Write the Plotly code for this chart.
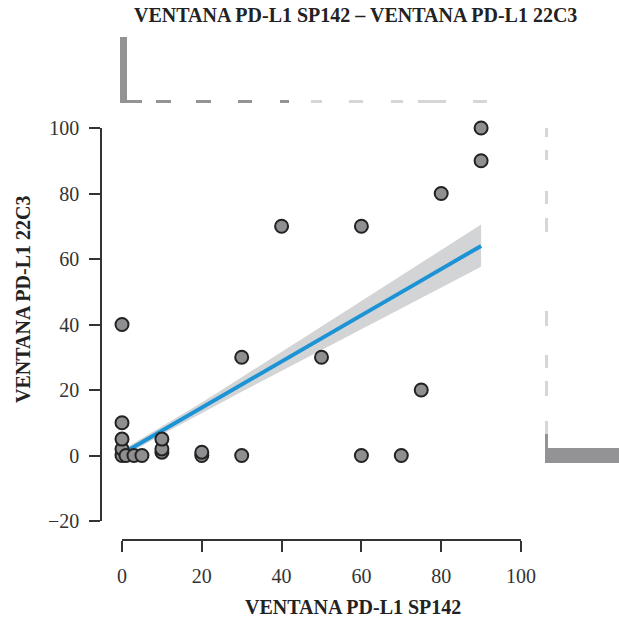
import plotly.graph_objects as go

W, H = 619, 621

# ---- data ----
sp142 = [0, 0, 0, 0, 0, 1, 3, 5, 10, 10, 10, 20, 20, 30, 30, 40, 50, 60, 60, 70, 75, 80, 90, 90]
c22c3 = [0, 2, 5, 10, 40, 0, 0, 0, 1, 2, 5, 0, 1, 0, 30, 70, 30, 70, 0, 0, 20, 80, 90, 100]

fit_x = [0, 10, 20, 30, 45, 60, 75, 90]
fit_y = [0.5, 7.6, 14.6, 21.7, 32.3, 42.8, 53.4, 64.0]
ci_lo = [-0.6, 6.4, 13.0, 19.5, 29.0, 38.5, 48.0, 57.6]
ci_hi = [1.6, 8.8, 16.2, 23.9, 35.6, 47.1, 58.8, 70.5]

top_lo = [-0.5, 1.3, 8.5, 18.5, 29.0, 39.6, 47.4, 56.9, 67.3, 74.3, 77.5, 87.9]
top_hi = [1.3, 4.9, 12.3, 22.2, 32.5, 41.9, 50.0, 60.5, 70.5, 77.5, 81.2, 91.6]
top_counts = [22, 1, 1, 1, 1, 1, 1, 1, 1, 1, 1, 1]
top_shade = ["d", "d", "d", "d", "d", "d", "l", "l", "l", "l", "l", "l"]

right_lo = [97.3, 90.2, 76.8, 68.1, 39.4, 26.7, 18.3, 6.7, 2.2, -2.2]
right_hi = [99.9, 93.3, 80.9, 72.5, 44.0, 30.8, 22.7, 10.5, 6.7, 2.2]
right_counts = [1, 1, 1, 1, 1, 1, 1, 1, 1, 26]
right_shade = ["l", "l", "l", "l", "l", "l", "l", "l", "d", "d"]

x_ticks = [0, 20, 40, 60, 80, 100]
y_ticks = [-20, 0, 20, 40, 60, 80, 100]

title = "VENTANA PD-L1 SP142 – VENTANA PD-L1 22C3"
x_title = "VENTANA PD-L1 SP142"
y_title = "VENTANA PD-L1 22C3"

# ---- styles ----
FONT = "Liberation Serif, Times New Roman, serif"
DARK = "#939396"
LIGHT = "#d6d6d8"
shade = {"d": DARK, "l": LIGHT}


def px_x(p):
    return p / W


def px_y(p):
    return 1 - p / H


fig = go.Figure()

# confidence band
fig.add_trace(go.Scatter(x=fit_x + fit_x[::-1], y=ci_hi + ci_lo[::-1], fill="toself",
                         fillcolor="#d3d4d6", line=dict(width=0), mode="lines",
                         hoverinfo="skip", xaxis="x", yaxis="y"))
# regression line
fig.add_trace(go.Scatter(x=fit_x, y=fit_y, mode="lines",
                         line=dict(color="#1b93d5", width=4), xaxis="x", yaxis="y"))
# points
fig.add_trace(go.Scatter(x=sp142, y=c22c3, mode="markers", cliponaxis=False,
                         marker=dict(size=13, color="#8f8f92",
                                     line=dict(color="#222222", width=2)),
                         xaxis="x", yaxis="y"))

# top marginal
fig.add_trace(go.Bar(x=[(a + b) / 2 for a, b in zip(top_lo, top_hi)],
                     width=[b - a for a, b in zip(top_lo, top_hi)],
                     y=top_counts, marker=dict(color=[shade[s] for s in top_shade], line=dict(width=0)),
                     xaxis="x2", yaxis="y2"))
# right marginal
fig.add_trace(go.Bar(y=[(a + b) / 2 for a, b in zip(right_lo, right_hi)],
                     width=[b - a for a, b in zip(right_lo, right_hi)],
                     x=right_counts, orientation="h",
                     marker=dict(color=[shade[s] for s in right_shade], line=dict(width=0)),
                     xaxis="x3", yaxis="y3"))

axis_common = dict(showgrid=False, zeroline=False, showline=True, linecolor="#333333",
                   linewidth=1.5, ticks="outside", ticklen=11, tickwidth=1.5,
                   tickcolor="#333333", automargin=False,
                   tickfont=dict(family=FONT, size=20, color="#333333"))

x_lo_px, x_hi_px = 101, 545
x_scale = 3.99  # px per unit
x_range_wide = [(x_lo_px - 122) / x_scale, (x_hi_px - 122) / x_scale]

fig.update_layout(
    width=W, height=H,
    autosize=False,
    margin=dict(l=0, r=0, t=0, b=0, pad=0, autoexpand=False),
    paper_bgcolor="white", plot_bgcolor="white",
    showlegend=False,
    bargap=0,
    xaxis=dict(domain=[px_x(122), px_x(521)], range=[0, 100], anchor="free",
               position=px_y(540), tickvals=x_ticks, ticklabelstandoff=7,
               **axis_common),
    yaxis=dict(domain=[px_y(521), px_y(128)], range=[-20, 100], anchor="free",
               position=px_x(101), tickvals=y_ticks, ticklabelstandoff=6,
               **axis_common),
    xaxis2=dict(domain=[px_x(x_lo_px), px_x(x_hi_px)], range=x_range_wide, visible=False,
                anchor="y2"),
    yaxis2=dict(domain=[px_y(103), px_y(30)], range=[0, (103 - 30) / 3.0], visible=False,
                anchor="x2"),
    xaxis3=dict(domain=[px_x(545), 1.0], range=[0, (619 - 545) / 3.3], visible=False,
                anchor="y3"),
    yaxis3=dict(domain=[px_y(521), px_y(128)], range=[-20, 100], visible=False,
                anchor="x3"),
    annotations=[
        dict(text="<b>" + title + "</b>", x=px_x(355), y=px_y(15), xref="paper", yref="paper",
             showarrow=False, xanchor="center", yanchor="middle",
             font=dict(family=FONT, size=20, color="#222222")),
        dict(text="<b>" + x_title + "</b>", x=px_x(353), y=px_y(607), xref="paper", yref="paper",
             showarrow=False, xanchor="center", yanchor="middle",
             font=dict(family=FONT, size=20, color="#222222")),
        dict(text="<b>" + y_title + "</b>", x=px_x(23), y=px_y(300), xref="paper", yref="paper",
             showarrow=False, xanchor="center", yanchor="middle", textangle=-90,
             font=dict(family=FONT, size=20, color="#222222")),
    ],
)

fig.write_html("out.html")
